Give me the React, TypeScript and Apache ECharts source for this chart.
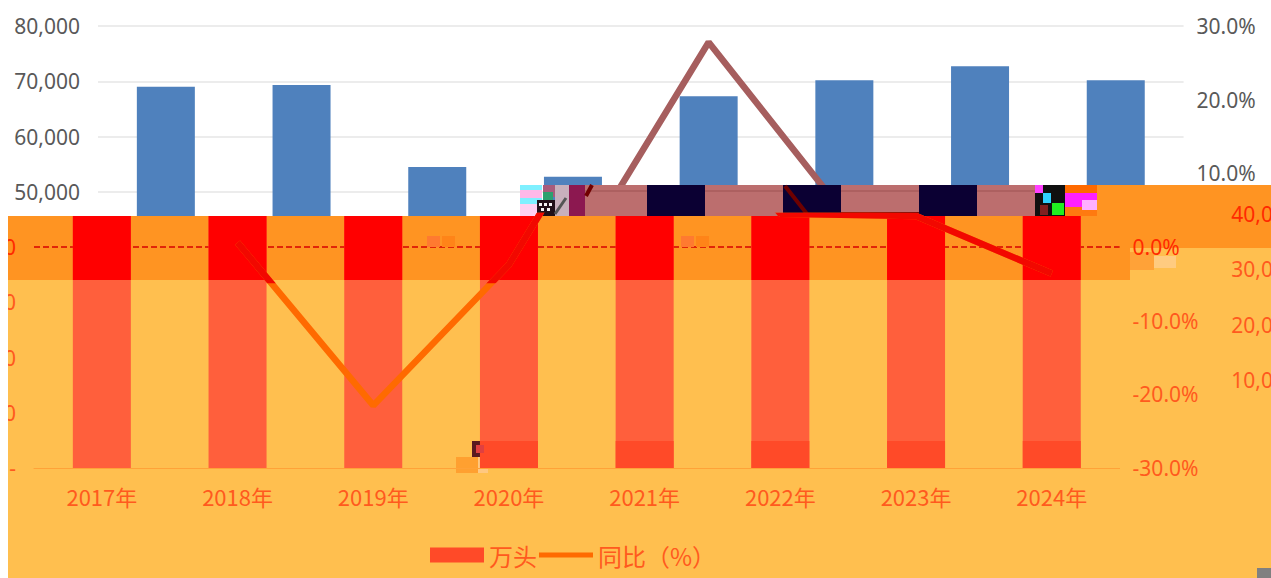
import React, { useEffect, useRef } from "react";
import * as echarts from "echarts";

const categories = ["2017年", "2018年", "2019年", "2020年", "2021年", "2022年", "2023年", "2024年"];
const headValues = [69000, 69300, 54500, 52700, 67300, 70200, 72700, 70200];
const yoyValues = [null, 0.006, -0.215, -0.024, 0.278, 0.045, 0.042, -0.036];
const legendNames = ["万头", "同比（%）"];

const FONT = "'Noto Sans', 'Noto Sans CJK SC', sans-serif";
const CJK = "'Noto Sans CJK SC', 'Noto Sans', sans-serif";
const W = 1271;
const H = 578;
const PLOT_W = 1085.6;
const UP_LEFT = 98;
const LOW_LEFT = 34;
const AXIS_TOP = 26;
const AXIS_ZERO = 468;
const SPAN = AXIS_ZERO - AXIS_TOP;
const leftAt = (y: number) => ((AXIS_ZERO - y) / SPAN) * 80000;
const rightAt = (y: number) => -0.3 + ((AXIS_ZERO - y) / SPAN) * 0.6;

const ORANGE_TEXT = "#FF5A1E";
const fmtThousand = (v: number) => Math.round(v).toLocaleString("en-US");
const fmtPct = (v: number) => (Math.abs(v) < 1e-9 ? "0.0" : (v * 100).toFixed(1)) + "%";

const rect = (x: number, y: number, w: number, h: number, fill: string, z: number) => ({
  type: "rect",
  z,
  silent: true,
  shape: { x, y, width: w, height: h },
  style: { fill },
});
const seg = (x1: number, y1: number, x2: number, y2: number, stroke: string, lineWidth: number, z: number) => ({
  type: "line",
  z,
  silent: true,
  shape: { x1, y1, x2, y2 },
  style: { stroke, lineWidth },
});

function buildGraphics() {
  const lightOrange = "#FFBF4F";
  const darkOrange = "#FF9422";
  const rose = "#BC6E6E";
  const navy = "#0B0033";
  const out: any[] = [
    // corrupted lower half of the picture
    rect(8, 216, W - 8, H - 216, lightOrange, 3),
    rect(8, 216, 1122, 64, darkOrange, 4),
    rect(1097, 185, W - 1097, 63, darkOrange, 4),
    // corrupted band in the upper half
    rect(585, 185, 450, 31, rose, 4),
    seg(585, 191, 1035, 191, "#A85C5C", 1.5, 4),
    rect(647, 185, 58, 31, navy, 4),
    rect(783, 185, 58, 31, navy, 4),
    rect(919, 185, 58, 31, navy, 4),
    rect(841, 212, 78, 4, "#7A0A0A", 4),
    seg(785, 186, 807, 214, "#6E0000", 4, 5),
    seg(805, 214, 919, 215, "#5A0000", 3, 5),
    // block noise, left of the band
    rect(520, 185, 22, 5, "#7FF0FF", 4),
    rect(520, 190, 22, 8, "#FFB8E8", 4),
    rect(520, 198, 22, 6, "#80F0FF", 4),
    rect(520, 204, 22, 12, "#FFD0F0", 4),
    rect(543, 185, 12, 12, "#A85C7C", 4),
    rect(543, 192, 10, 9, "#2CA070", 4),
    rect(537, 200, 18, 16, "#201018", 4),
    rect(539, 203, 3, 3, "#F4F4F4", 5),
    rect(544, 203, 3, 3, "#F4F4F4", 5),
    rect(549, 203, 3, 3, "#F4F4F4", 5),
    rect(541, 208, 3, 3, "#F4F4F4", 5),
    rect(547, 208, 3, 3, "#F4F4F4", 5),
    rect(555, 185, 14, 31, "#C8B0BC", 4),
    seg(555, 214, 566, 198, "#555555", 3, 5),
    rect(569, 185, 16, 31, "#8C1850", 4),
    seg(586, 196, 592, 185, "#700000", 4, 5),
    // block noise, right of the band
    rect(1035, 185, 30, 31, "#101010", 4),
    rect(1035, 185, 8, 8, "#FF40FF", 5),
    rect(1043, 193, 8, 10, "#30D0FF", 5),
    rect(1052, 203, 12, 12, "#20F020", 5),
    rect(1040, 205, 8, 10, "#802020", 5),
    rect(1065, 185, 32, 8, "#FF6A00", 4),
    rect(1065, 193, 32, 14, "#FF20FF", 4),
    rect(1082, 200, 15, 10, "#FFB0FF", 5),
    rect(1065, 207, 32, 9, "#FF7A10", 4),
    // small checker patches
    rect(427, 236, 13, 11, "#FF7A30", 6),
    rect(442, 236, 13, 11, "#FF8418", 6),
    rect(681, 236, 13, 11, "#FF7A30", 6),
    rect(696, 236, 13, 11, "#FF8418", 6),
    rect(472, 441, 16, 17, "#5A1A20", 7),
    rect(476, 445, 8, 8, "#E04040", 8),
    rect(456, 457, 22, 16, "#FFA030", 7),
    rect(478, 457, 10, 16, "#FFC880", 7),
    rect(1130, 252, 24, 18, "#FFA238", 5),
    rect(1154, 256, 22, 12, "#FFCB80", 5),
    rect(1257, 568, 14, 10, "#808080", 20),
    // white strip on the left of the lower half
    rect(0, 216, 8, H - 216, "#FFFFFF", 20),
  ];
  return out;
}

function buildOption(): any {
  const hiddenX = (gridIndex: number) => ({
    type: "category",
    gridIndex,
    data: categories,
    show: false,
    boundaryGap: true,
  });
  const hiddenY = (gridIndex: number, min: number, max: number) => ({
    type: "value",
    gridIndex,
    min,
    max,
    show: false,
    splitLine: { show: false },
  });
  const labelBase = { fontFamily: FONT, fontSize: 21 };
  const barsFrom = (start: number) => headValues.map((v, i) => (i >= start ? v : null));
  const gridBase = { outerBoundsMode: "none" };

  return {
    animation: false,
    backgroundColor: "#FFFFFF",
    grid: [
      { ...gridBase, left: UP_LEFT, top: AXIS_TOP, width: PLOT_W, height: SPAN },
      { ...gridBase, left: LOW_LEFT, top: 216, width: PLOT_W, height: AXIS_ZERO - 216 },
      { ...gridBase, left: LOW_LEFT, top: 216, width: PLOT_W, height: 64 },
      { ...gridBase, left: LOW_LEFT, top: 441, width: PLOT_W, height: AXIS_ZERO - 441 },
      { ...gridBase, left: 1308, top: 214, width: 100, height: 221 },
    ],
    xAxis: [
      { ...hiddenX(0) },
      {
        type: "category",
        gridIndex: 1,
        data: categories,
        z: 10,
        axisTick: { show: false },
        axisLine: { lineStyle: { color: "#FFA238", width: 1 } },
        axisLabel: { ...labelBase, fontSize: 22, color: ORANGE_TEXT, fontFamily: CJK, margin: 17, interval: 0 },
      },
      hiddenX(2),
      hiddenX(3),
      hiddenX(4),
    ],
    yAxis: [
      {
        type: "value",
        gridIndex: 0,
        min: 0,
        max: 80000,
        interval: 10000,
        z: 1,
        axisLine: { show: false },
        axisTick: { show: false },
        axisLabel: { ...labelBase, color: "#595959", margin: 18, formatter: fmtThousand },
        splitLine: { lineStyle: { color: "#E6E6E6", width: 1.5 } },
      },
      {
        type: "value",
        gridIndex: 0,
        position: "right",
        min: -0.3,
        max: 0.3,
        interval: 0.1,
        z: 1,
        axisLine: { show: false },
        axisTick: { show: false },
        axisLabel: { ...labelBase, color: "#595959", margin: 13, formatter: fmtPct },
        splitLine: { show: false },
      },
      {
        type: "value",
        gridIndex: 1,
        min: 0,
        max: leftAt(216),
        interval: 10000,
        z: 10,
        axisLine: { show: false },
        axisTick: { show: false },
        axisLabel: {
          ...labelBase,
          color: (v: any) => (Number(v) >= 40000 ? "#FF2A00" : ORANGE_TEXT),
          margin: 18,
          showMaxLabel: false,
          formatter: (v: number) => (v === 0 ? "-" : fmtThousand(v)),
        },
        splitLine: { show: false },
      },
      {
        type: "value",
        gridIndex: 1,
        position: "right",
        min: -0.3,
        max: rightAt(216),
        interval: 0.1,
        z: 10,
        axisLine: { show: false },
        axisTick: { show: false },
        axisLabel: {
          ...labelBase,
          color: (v: any) => (Math.abs(Number(v)) < 1e-6 ? "#FF2A00" : ORANGE_TEXT),
          margin: 13,
          showMaxLabel: false,
          formatter: fmtPct,
        },
        splitLine: { show: false },
      },
      hiddenY(2, leftAt(280), leftAt(216)),
      { ...hiddenY(2, rightAt(280), rightAt(216)), position: "right" },
      hiddenY(3, 0, leftAt(441)),
      {
        type: "value",
        gridIndex: 4,
        min: 0,
        max: 40000,
        interval: 10000,
        z: 10,
        axisLine: { show: false },
        axisTick: { show: false },
        axisLabel: {
          ...labelBase,
          color: (v: any) => (Number(v) >= 40000 ? "#FF2A00" : ORANGE_TEXT),
          margin: 11,
          showMinLabel: false,
          formatter: fmtThousand,
        },
        splitLine: { show: false },
      },
    ],
    legend: {
      left: 425,
      top: 538,
      itemWidth: 54,
      itemHeight: 15,
      itemGap: 2,
      data: [
        { name: legendNames[0], icon: "rect", itemStyle: { color: "#FF4A28" } },
        {
          name: legendNames[1],
          icon: "path://M0 0L0 0M0 5L54 5L54 10L0 10ZM54 15L54 15",
          itemStyle: { color: "#FF6A00" },
        },
      ],
      textStyle: { fontFamily: CJK, fontSize: 24, color: ORANGE_TEXT },
    },
    series: [
      {
        name: "上半柱",
        type: "bar",
        xAxisIndex: 0,
        yAxisIndex: 0,
        data: headValues,
        barWidth: 58,
        z: 2,
        itemStyle: { color: "#4F81BD" },
      },
      {
        name: "上半线",
        type: "line",
        xAxisIndex: 0,
        yAxisIndex: 1,
        data: yoyValues,
        symbol: "none",
        z: 2,
        lineStyle: { color: "#A65E5E", width: 6.5 },
      },
      {
        name: legendNames[0],
        type: "bar",
        xAxisIndex: 1,
        yAxisIndex: 2,
        data: headValues,
        barWidth: 58,
        z: 6,
        itemStyle: { color: "#FF5F3C" },
      },
      {
        name: "带内柱",
        type: "bar",
        xAxisIndex: 2,
        yAxisIndex: 4,
        data: headValues,
        barWidth: 58,
        z: 7,
        itemStyle: { color: "#FF0000" },
      },
      {
        name: "底部柱",
        type: "bar",
        xAxisIndex: 3,
        yAxisIndex: 6,
        data: barsFrom(3),
        barWidth: 58,
        z: 7,
        itemStyle: { color: "#FF4A28" },
      },
      {
        name: legendNames[1],
        type: "line",
        xAxisIndex: 1,
        yAxisIndex: 3,
        data: yoyValues,
        symbol: "none",
        z: 8,
        lineStyle: { color: "#FF6A00", width: 6.5 },
        itemStyle: { color: "#FF6A00" },
        markLine: {
          silent: true,
          symbol: "none",
          label: { show: false },
          lineStyle: { color: "#D80000", type: "dashed", width: 1.5 },
          data: [{ yAxis: 0 }],
        },
      },
      {
        name: "带内线",
        type: "line",
        xAxisIndex: 2,
        yAxisIndex: 5,
        data: yoyValues,
        symbol: "none",
        z: 9,
        lineStyle: { color: "#F20800", width: 6.5 },
      },
    ],
    graphic: { elements: buildGraphics() },
  };
}

export default function App() {
  const ref = useRef<HTMLDivElement>(null);
  useEffect(() => {
    if (!ref.current) return;
    const chart = echarts.init(ref.current, undefined, { renderer: "svg" });
    chart.setOption(buildOption());
    return () => chart.dispose();
  }, []);
  return <div ref={ref} style={{ position: "absolute", left: 0, top: 0, width: W, height: H }} />;
}
